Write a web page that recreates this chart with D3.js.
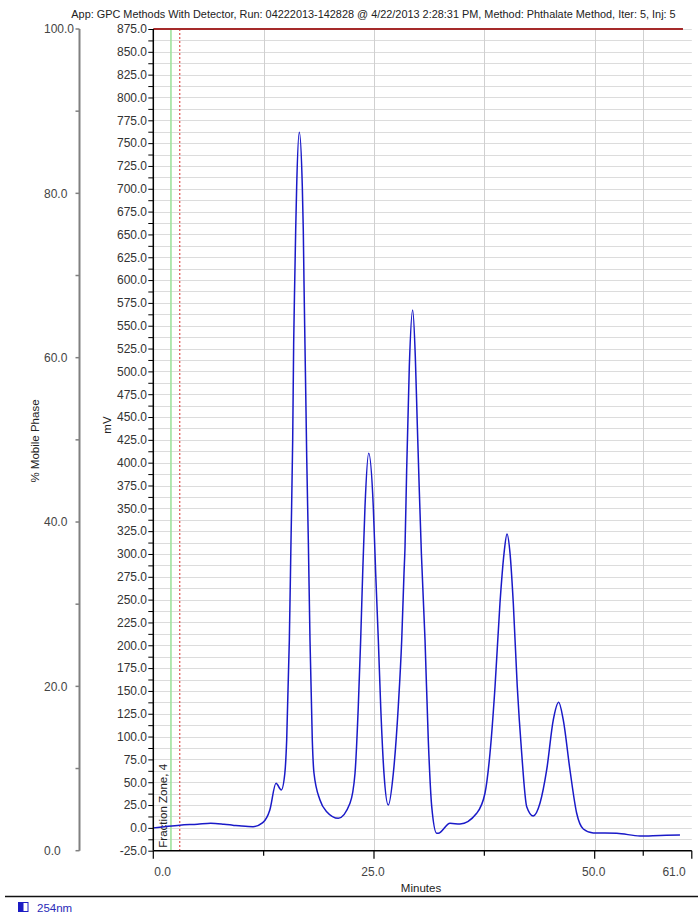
<!DOCTYPE html>
<html>
<head>
<meta charset="utf-8">
<script src="https://cdn.jsdelivr.net/npm/d3@7"></script>
<style>
  html, body { margin: 0; padding: 0; background: #fff; }
  svg { display: block; font-family: "Liberation Sans", Arial, sans-serif; }
</style>
</head>
<body>
<svg id="chart" width="698" height="913"></svg>
<script>
// ---- data ----
const traceTime = [0, 1, 3, 5, 6.5, 8, 9, 10, 11.3, 12.4, 13.2, 13.9, 14.5, 14.9, 15.11, 15.41, 15.6, 15.79, 15.9, 16.02, 16.13, 16.24, 16.54, 16.88, 16.99, 17.07, 17.18, 17.3, 17.38, 17.56, 17.75, 18.01, 18.2, 18.88, 19.64, 20.96, 22.28, 22.85, 23.22, 23.49, 23.72, 23.98, 24.4, 24.92, 25.19, 25.49, 25.76, 26.13, 26.62, 27.19, 27.75, 28.14, 28.4, 28.51, 28.7, 29.0, 29.38, 29.68, 29.9, 30.13, 30.37, 30.78, 31.15, 31.54, 32.1, 32.28, 33.61, 34.74, 36.63, 37.57, 38.14, 38.71, 39.27, 39.73, 40.07, 40.41, 40.78, 41.23, 41.73, 42.3, 43.04, 43.8, 44.56, 45.31, 45.92, 46.44, 47.2, 47.96, 48.71, 49.84, 52.49, 55.13, 57.4, 59.66];
const traceMV   = [0, 1, 3, 4, 5, 4, 3, 2, 1.3, 5.7, 19.6, 48.8, 41.5, 59.8, 96.2, 205.8, 315.3, 424.8, 529.7, 598.2, 654.8, 702.3, 762, 702.3, 654.8, 598.2, 529.7, 456.6, 405.1, 315.3, 205.8, 96.2, 60.1, 30.5, 17.7, 10.5, 26.9, 59.8, 132.7, 205.8, 279.2, 351.8, 410.3, 351.8, 279, 205.8, 132.7, 59.8, 25, 59.8, 132.7, 205.8, 279, 306.2, 392, 505.1, 567.2, 516.1, 443.1, 370.1, 300, 205.8, 96.2, 23.2, -5.9, -5.9, 5, 4.3, 16, 37.9, 81.7, 154.6, 246, 300.7, 321.9, 300.7, 246, 154.6, 81.7, 23.2, 13, 26.9, 63.4, 118.2, 137.5, 118.2, 63.4, 16, -1.2, -5.6, -5.9, -8.9, -8.3, -7.8];

const mobileTime = [0, 60];
const mobilePct  = [100, 100];

const fractionStart = [2.0];
const fractionEnd   = [3.0];
const fractionLabel = ["Fraction Zone, 4"];

const xMajorTicks = [0, 25, 50, 61];
const xMinorTicks = [12.5, 37.5, 55.5];
const mvLabelTicks = [-25, 0, 25, 50, 75, 100, 125, 150, 175, 200, 225, 250, 275, 300, 325, 350, 375, 400, 425, 450, 475, 500, 525, 550, 575, 600, 625, 650, 675, 700, 725, 750, 775, 800, 825, 850, 875];
const pctLabelTicks = [0, 20, 40, 60, 80, 100];
const pctMinorTicks = [10, 30, 50, 70, 90];

const titleText = "App: GPC Methods With Detector, Run: 04222013-142828 @ 4/22/2013 2:28:31 PM, Method: Phthalate Method, Iter: 5, Inj: 5";
const legendLabel = "254nm";

(function () {
// ---- scales ----
const svg = d3.select("#chart");
const pL = 153.3, pR = 691.8, pT = 29, pB = 850.7;
const x = d3.scaleLinear().domain([0, 61]).range([pL, pR]);
const y = d3.scaleLinear().domain([-25, 875]).range([pB, pT]);
const yp = d3.scaleLinear().domain([0, 100]).range([pB, pT]);

// title
svg.append("text").attr("x", 373.5).attr("y", 18)
  .attr("text-anchor", "middle").attr("font-size", 10.9).attr("fill", "#222")
  .text(titleText);

// horizontal gridlines every 12.5
const hGrid = d3.range(-12.5, 875.1, 12.5);
svg.append("g").selectAll("line").data(hGrid).join("line")
  .attr("x1", pL).attr("x2", pR)
  .attr("y1", d => Math.round(y(d)) + 0.5).attr("y2", d => Math.round(y(d)) + 0.5)
  .attr("stroke", "#dcdcdc").attr("stroke-width", 1);

// vertical gridlines
svg.append("g").selectAll("line").data([12.5, 25, 37.5, 50, 55.5]).join("line")
  .attr("x1", d => Math.round(x(d)) + 0.5).attr("x2", d => Math.round(x(d)) + 0.5)
  .attr("y1", pT).attr("y2", pB)
  .attr("stroke", "#d0d0d0").attr("stroke-width", 1);

// fraction zone lines
svg.append("line").attr("x1", x(fractionStart[0])).attr("x2", x(fractionStart[0]))
  .attr("y1", pT).attr("y2", pB).attr("stroke", "#9ee29e").attr("stroke-width", 1.6);
svg.append("line").attr("x1", x(fractionEnd[0])).attr("x2", x(fractionEnd[0]))
  .attr("y1", pT).attr("y2", pB).attr("stroke", "#d83030").attr("stroke-width", 1)
  .attr("stroke-dasharray", "2,2");
svg.append("text")
  .attr("transform", `translate(${(x(0) + x(fractionStart[0])) / 2 + 4.5},${pB - 3}) rotate(-90)`)
  .attr("font-size", 11.5).attr("fill", "#222").text(fractionLabel[0]);

// mobile phase line
const mpData = mobileTime.map((t, i) => [t, mobilePct[i]]);
svg.append("path").datum(mpData)
  .attr("d", d3.line().x(d => x(d[0])).y(d => yp(d[1])))
  .attr("stroke", "#a52a2a").attr("stroke-width", 2.2).attr("fill", "none");

// trace
const trData = traceTime.map((t, i) => [t, traceMV[i]]);
svg.append("path").datum(trData)
  .attr("d", d3.line().x(d => x(d[0])).y(d => y(d[1])).curve(d3.curveMonotoneX))
  .attr("stroke", "#1a1ac8").attr("stroke-width", 1.5).attr("fill", "none")
  .attr("stroke-linejoin", "round");

// mV axis
const mvAxis = svg.append("g").attr("transform", `translate(${pL},0)`)
  .call(d3.axisLeft(y).tickValues(d3.range(-25, 875.1, 12.5)).tickSize(5).tickFormat(d => ""));
mvAxis.select(".domain").attr("stroke", "#000").attr("stroke-width", 1.5).attr("d", `M0,${pT}V${pB}`);
mvAxis.selectAll(".tick line").attr("stroke", "#000");
svg.append("g").selectAll("text").data(mvLabelTicks).join("text")
  .attr("x", 147).attr("y", d => y(d) + 4.3)
  .attr("text-anchor", "end").attr("font-size", 12).attr("fill", "#333")
  .text(d => d.toFixed(1));

// x axis
const xAxis = svg.append("g").attr("transform", `translate(0,${pB})`);
xAxis.append("line").attr("x1", pL).attr("x2", pR).attr("y1", 0).attr("y2", 0)
  .attr("stroke", "#000").attr("stroke-width", 1.5);
xAxis.selectAll("line.maj").data(xMajorTicks).join("line").attr("class", "maj")
  .attr("x1", d => x(d)).attr("x2", d => x(d)).attr("y1", 0).attr("y2", 8)
  .attr("stroke", "#000").attr("stroke-width", 1.2);
xAxis.selectAll("line.min").data(xMinorTicks).join("line").attr("class", "min")
  .attr("x1", d => x(d)).attr("x2", d => x(d)).attr("y1", 0).attr("y2", 5)
  .attr("stroke", "#000").attr("stroke-width", 1.2);
xAxis.selectAll("text").data(xMajorTicks).join("text")
  .attr("x", (d, i) => i === 0 ? x(d) + 1 : (i === xMajorTicks.length - 1 ? x(d) - 6 : x(d) - 1))
  .attr("y", 25.5)
  .attr("text-anchor", (d, i) => i === 0 ? "start" : (i === xMajorTicks.length - 1 ? "end" : "middle"))
  .attr("font-size", 12).attr("fill", "#444")
  .text(d => d.toFixed(1));
svg.append("text").attr("x", 421).attr("y", 892).attr("text-anchor", "middle")
  .attr("font-size", 11.5).attr("fill", "#222").text("Minutes");

// mV label
svg.append("text").attr("transform", `translate(111,425) rotate(-90)`)
  .attr("text-anchor", "middle").attr("font-size", 11.5).attr("fill", "#222").text("mV");

// % mobile phase axis
const pAxis = svg.append("g").attr("transform", "translate(79.5,0)");
pAxis.append("line").attr("x1", 0).attr("x2", 0).attr("y1", pT).attr("y2", pB)
  .attr("stroke", "#808080").attr("stroke-width", 2);
pAxis.selectAll("line.t").data(pctLabelTicks.concat(pctMinorTicks)).join("line").attr("class", "t")
  .attr("x1", -4).attr("x2", 0).attr("y1", d => yp(d)).attr("y2", d => yp(d))
  .attr("stroke", "#808080").attr("stroke-width", 1.5);
svg.append("g").selectAll("text").data(pctLabelTicks).join("text")
  .attr("x", 44).attr("y", d => yp(d) + 4.3).attr("font-size", 12).attr("fill", "#444")
  .text(d => d.toFixed(1));
svg.append("text").attr("transform", `translate(39,441) rotate(-90)`)
  .attr("text-anchor", "middle").attr("font-size", 11.5).attr("fill", "#222").text("% Mobile Phase");

// legend separator and entry
svg.append("line").attr("x1", 5).attr("x2", 698).attr("y1", 896.5).attr("y2", 896.5)
  .attr("stroke", "#111").attr("stroke-width", 1.5);
svg.append("rect").attr("x", 18.5).attr("y", 902.5).attr("width", 9.5).attr("height", 9)
  .attr("fill", "#fff").attr("stroke", "#1c1cc4").attr("stroke-width", 1);
svg.append("rect").attr("x", 18.5).attr("y", 902.5).attr("width", 5).attr("height", 9)
  .attr("fill", "#1c1cc4");
svg.append("text").attr("x", 37).attr("y", 911.5).attr("font-size", 11.5).attr("fill", "#2a2ab8")
  .text(legendLabel);
})();
</script>
</body>
</html>
